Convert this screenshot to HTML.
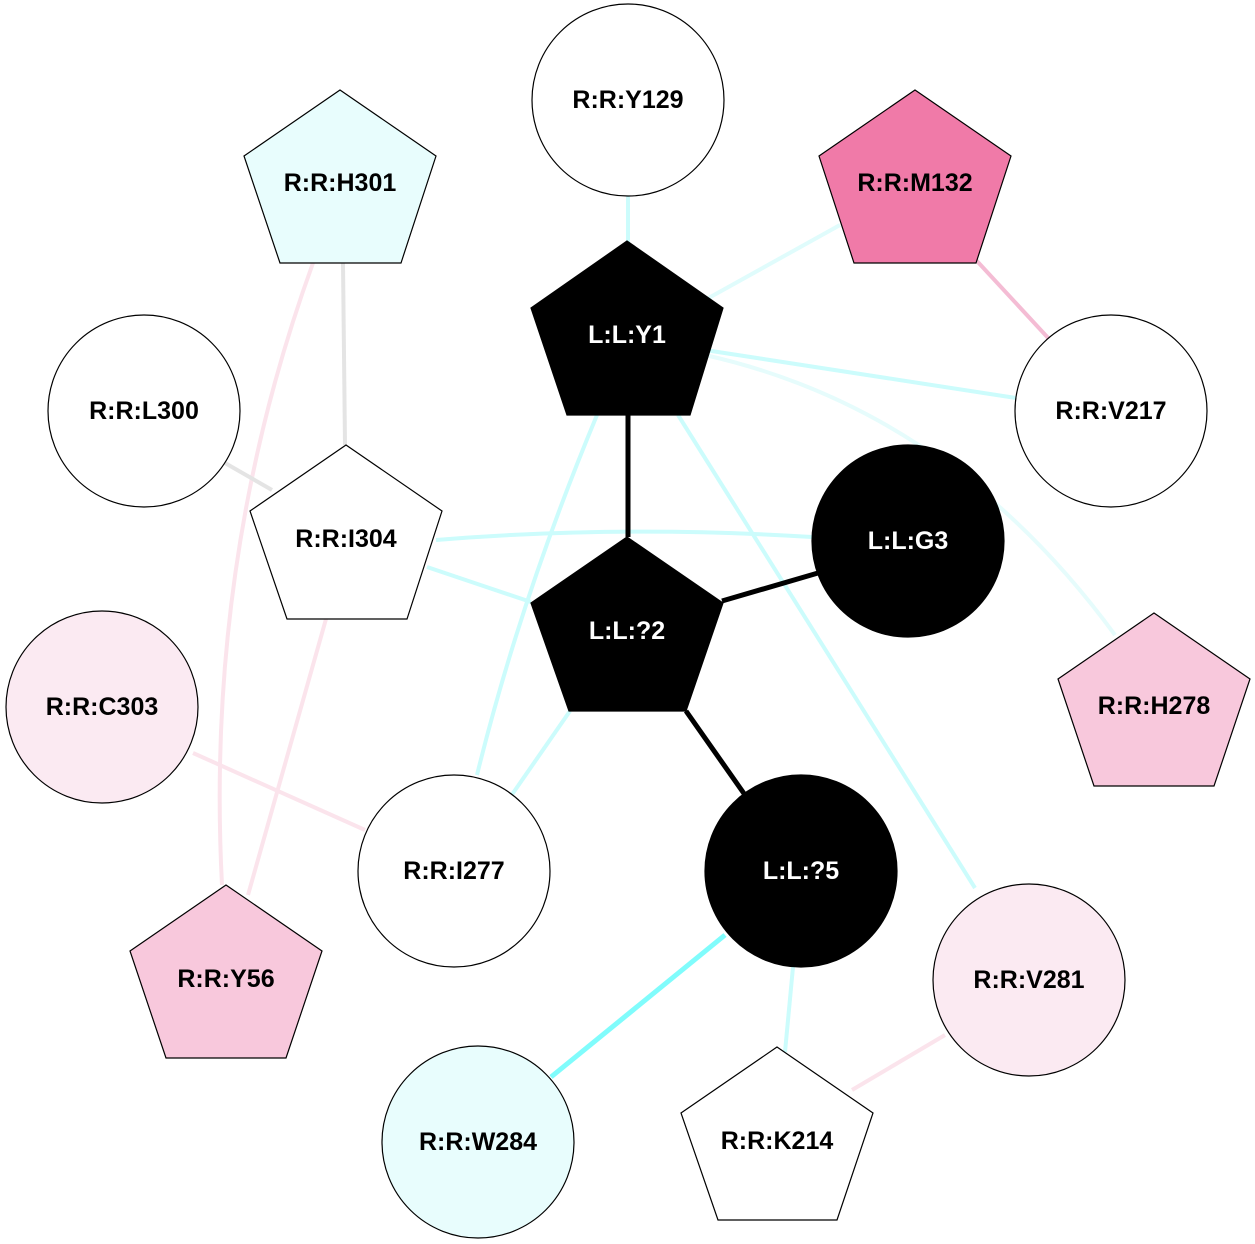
<!DOCTYPE html>
<html><head><meta charset="utf-8"><style>html,body{margin:0;padding:0;background:#fff}svg{display:block}text{font-family:"Liberation Sans",Arial,sans-serif;font-weight:bold;font-size:25px;text-anchor:middle;dominant-baseline:central}</style></head>
<body>
<svg width="1255" height="1244" viewBox="0 0 1255 1244" xmlns="http://www.w3.org/2000/svg">
<g fill="none" stroke-width="4">
<line x1="628" y1="196" x2="628" y2="245" stroke="#ccfcfc"/>
<line x1="840" y1="225" x2="705" y2="300" stroke="#e0fcfc"/>
<line x1="976" y1="260" x2="1050" y2="340" stroke="#f4bcd4"/>
<line x1="705" y1="350" x2="1016" y2="398" stroke="#ccfcfc"/>
<path d="M705 355 Q950 410 1115 635" stroke="#e6fcfc"/>
<path d="M597 415 Q520 600 477 775" stroke="#ccfcfc"/>
<line x1="678" y1="415" x2="975" y2="888" stroke="#ccfcfc"/>
<line x1="343" y1="263" x2="345" y2="445" stroke="#e4e4e4"/>
<path d="M313 263 Q205 560 222 885" stroke="#fbe4ec"/>
<line x1="326" y1="619" x2="248" y2="895" stroke="#fbe4ec"/>
<line x1="225" y1="463" x2="272" y2="490" stroke="#e4e4e4"/>
<path d="M436 540 Q620 525 812 537" stroke="#ccfcfc"/>
<line x1="427" y1="567" x2="531" y2="602" stroke="#ccfcfc"/>
<line x1="570" y1="711" x2="511" y2="796" stroke="#ccfcfc"/>
<line x1="193" y1="753" x2="365" y2="830" stroke="#fbe4ec"/>
<line x1="725" y1="935" x2="551" y2="1077" stroke="#80fcfc" stroke-width="5"/>
<line x1="793" y1="967" x2="785" y2="1052" stroke="#ccfcfc"/>
<line x1="945" y1="1035" x2="852" y2="1090" stroke="#fbe4ec"/>
<line x1="628" y1="415" x2="628" y2="537" stroke="#000" stroke-width="5"/>
<line x1="722" y1="601" x2="818" y2="573" stroke="#000" stroke-width="5"/>
<line x1="686" y1="711" x2="745" y2="795" stroke="#000" stroke-width="5"/>
</g>
<g stroke="#000" stroke-width="1.2">
<circle cx="628" cy="100" r="96" fill="#fff"/>
<polygon points="340,90 436,156 401,263 280,263 244,156" fill="#e8fdfd"/>
<polygon points="915,90 1011,156 976,263 854,263 819,156" fill="#f07aa8"/>
<polygon points="627,241 723,308 690,415 567,415 531,308" fill="#000"/>
<circle cx="144" cy="411" r="96" fill="#fff"/>
<circle cx="1111" cy="411" r="96" fill="#fff"/>
<polygon points="346,445 442,511 407,619 287,619 250,511" fill="#fff"/>
<circle cx="908" cy="541" r="96" fill="#000"/>
<polygon points="627,537 723,603 686,711 569,711 531,603" fill="#000"/>
<polygon points="1154,613 1250,679 1214,786 1094,786 1058,679" fill="#f8c8dc"/>
<circle cx="102" cy="707" r="96" fill="#fbeaf2"/>
<circle cx="454" cy="871" r="96" fill="#fff"/>
<circle cx="801" cy="871" r="96" fill="#000"/>
<polygon points="226,885 322,951 286,1058 166,1058 130,951" fill="#f8c8dc"/>
<circle cx="1029" cy="980" r="96" fill="#fbeaf2"/>
<circle cx="478" cy="1142" r="96" fill="#e8fdfd"/>
<polygon points="777,1047 873,1113 837,1220 718,1220 681,1113" fill="#fff"/>
</g>
<g fill="#000">
<text x="628" y="100">R:R:Y129</text>
<text x="340" y="183">R:R:H301</text>
<text x="915" y="183">R:R:M132</text>
<text x="144" y="411">R:R:L300</text>
<text x="1111" y="411">R:R:V217</text>
<text x="346" y="539">R:R:I304</text>
<text x="1154" y="706">R:R:H278</text>
<text x="102" y="707">R:R:C303</text>
<text x="454" y="871">R:R:I277</text>
<text x="226" y="979">R:R:Y56</text>
<text x="1029" y="980">R:R:V281</text>
<text x="478" y="1142">R:R:W284</text>
<text x="777" y="1141">R:R:K214</text>
</g>
<g fill="#fff">
<text x="627" y="335">L:L:Y1</text>
<text x="908" y="541">L:L:G3</text>
<text x="627" y="631">L:L:?2</text>
<text x="801" y="871">L:L:?5</text>
</g>
</svg>
</body></html>
